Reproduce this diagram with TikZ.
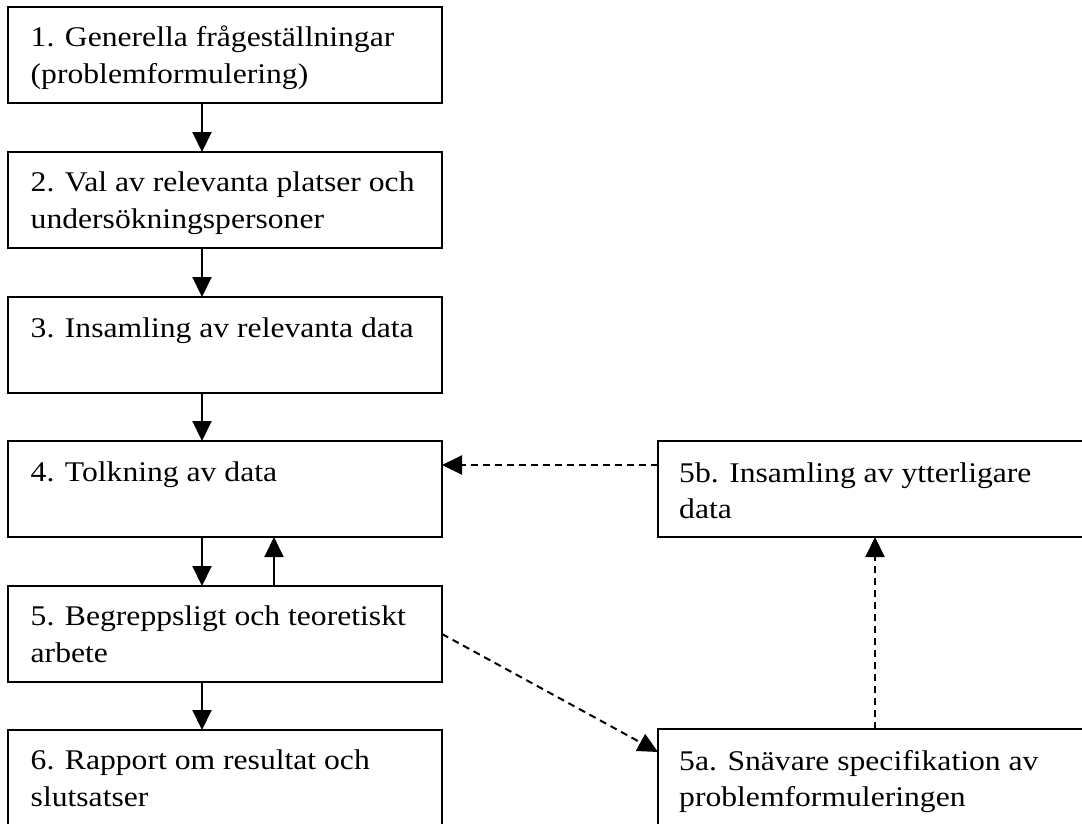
\documentclass[tikz,border=0pt]{standalone}
\usepackage{fontspec}
\setmainfont[FakeStretch=1.11]{Liberation Serif}
\usetikzlibrary{arrows.meta}
\newcommand{\firstln}{\rule{0pt}{24pt}}
\begin{document}
\begin{tikzpicture}[x=1pt,y=-1pt,
  box/.style={draw, line width=2pt, rectangle, minimum width=434pt, minimum height=96pt, inner sep=0pt, outer sep=0pt, anchor=north west},
  txt/.style={anchor=north west, inner sep=0pt, align=left, font=\fontsize{28.5pt}{36.5pt}\selectfont},
  arr/.style={line width=2pt, -{Triangle[length=20pt,width=19pt]}},
  darr/.style={arr, dash pattern=on 7pt off 5pt}]
\useasboundingbox (0,0) rectangle (1082,823);
\clip (0,0) rectangle (1082,823);
% boxes
\node[box] (n1) at (8,7) {};
\node[box] (n2) at (8,152) {};
\node[box] (n3) at (8,297) {};
\node[box] (n4) at (8,441) {};
\node[box] (n5) at (8,586) {};
\node[box] (n6) at (8,730) {};
\node[box] (n5b) at (658,441) {};
\node[box] (n5a) at (658,729) {};
% texts
\node[txt] (t1) at (30.5,22.5) {\firstln 1. Generella frågeställningar\\(problemformulering)};
\node[txt] (t2) at (30.5,167.5) {\firstln 2. Val av relevanta platser och\\undersökningspersoner};
\node[txt] (t3) at (30.5,313.5) {\firstln 3. Insamling av relevanta data};
\node[txt] (t4) at (30.5,457) {\firstln 4. Tolkning av data};
\node[txt] (t5) at (30.5,601.5) {\firstln 5. Begreppsligt och teoretiskt\\arbete};
\node[txt] (t6) at (30.5,745.5) {\firstln 6. Rapport om resultat och\\slutsatser};
\node[txt] (t5b) at (679,458) {\firstln 5b. Insamling av ytterligare\\data};
\node[txt] (t5a) at (679,746) {\firstln 5a. Snävare specifikation av\\problemformuleringen};
% connectors
\draw[arr] ([xshift=-23pt]n1.south) -- ([xshift=-23pt]n2.north);
\draw[arr] ([xshift=-23pt]n2.south) -- ([xshift=-23pt]n3.north);
\draw[arr] ([xshift=-23pt]n3.south) -- ([xshift=-23pt]n4.north);
\draw[arr] ([xshift=-23pt]n4.south) -- ([xshift=-23pt]n5.north);
\draw[arr] ([xshift=49pt]n5.north) -- ([xshift=49pt]n4.south);
\draw[arr] ([xshift=-23pt]n5.south) -- ([xshift=-23pt]n6.north);
\draw[darr] ([yshift=24pt]n5b.west) -- ([yshift=24pt]n4.east);
\draw[darr] (n5.east) -- ([yshift=25pt]n5a.west);
\draw[darr] (n5a.north) -- (n5b.south);
\end{tikzpicture}
\end{document}
